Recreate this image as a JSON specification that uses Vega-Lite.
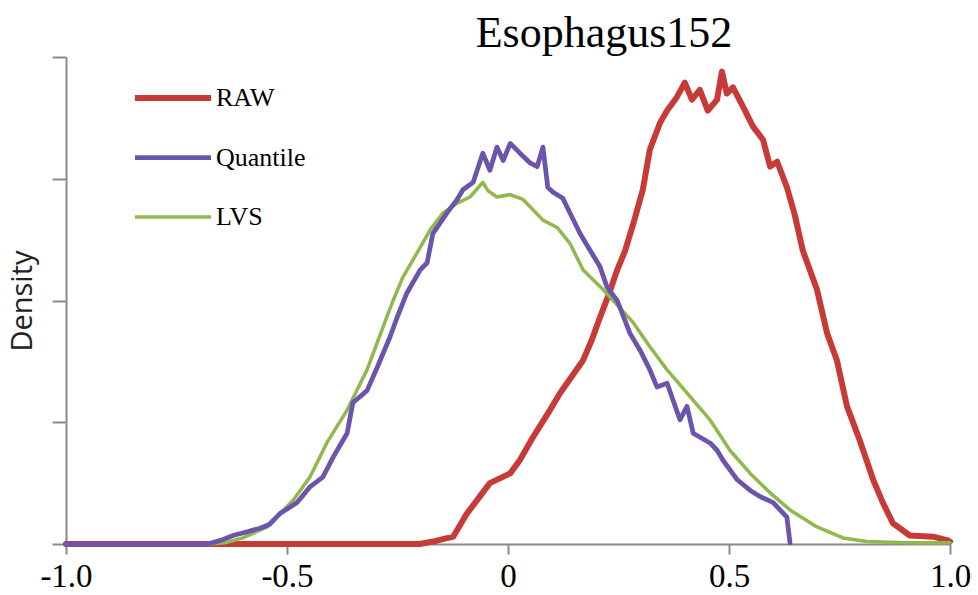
{
  "$schema": "https://vega.github.io/schema/vega-lite/v6.json",
  "autosize": {"type": "none"},
  "width": 884,
  "height": 487,
  "padding": {"left": 66, "top": 57, "right": 28, "bottom": 51},
  "background": "white",
  "title": {
    "text": "Esophagus152",
    "font": "Liberation Serif",
    "fontSize": 44,
    "fontWeight": "normal",
    "color": "black",
    "anchor": "middle",
    "dx": 96,
    "dy": 44,
    "baseline": "alphabetic",
    "offset": 9
  },
  "data": {"values": [
    {"s":"RAW","x":-1.0,"y":0},{"s":"RAW","x":-0.5,"y":0},{"s":"RAW","x":-0.2,"y":0},{"s":"RAW","x":-0.17,"y":0.02},{"s":"RAW","x":-0.124,"y":0.06},{"s":"RAW","x":-0.093,"y":0.25},{"s":"RAW","x":-0.07,"y":0.36},{"s":"RAW","x":-0.041,"y":0.5},{"s":"RAW","x":0.005,"y":0.58},{"s":"RAW","x":0.027,"y":0.69},{"s":"RAW","x":0.057,"y":0.88},{"s":"RAW","x":0.095,"y":1.10},{"s":"RAW","x":0.118,"y":1.24},{"s":"RAW","x":0.145,"y":1.38},{"s":"RAW","x":0.17,"y":1.51},{"s":"RAW","x":0.19,"y":1.68},{"s":"RAW","x":0.208,"y":1.86},{"s":"RAW","x":0.228,"y":2.05},{"s":"RAW","x":0.247,"y":2.25},{"s":"RAW","x":0.265,"y":2.41},{"s":"RAW","x":0.285,"y":2.65},{"s":"RAW","x":0.305,"y":2.91},{"s":"RAW","x":0.321,"y":3.24},{"s":"RAW","x":0.344,"y":3.46},{"s":"RAW","x":0.36,"y":3.56},{"s":"RAW","x":0.382,"y":3.67},{"s":"RAW","x":0.40,"y":3.79},{"s":"RAW","x":0.416,"y":3.65},{"s":"RAW","x":0.434,"y":3.73},{"s":"RAW","x":0.452,"y":3.56},{"s":"RAW","x":0.473,"y":3.65},{"s":"RAW","x":0.484,"y":3.88},{"s":"RAW","x":0.495,"y":3.70},{"s":"RAW","x":0.509,"y":3.75},{"s":"RAW","x":0.532,"y":3.59},{"s":"RAW","x":0.554,"y":3.43},{"s":"RAW","x":0.577,"y":3.32},{"s":"RAW","x":0.593,"y":3.10},{"s":"RAW","x":0.609,"y":3.14},{"s":"RAW","x":0.631,"y":2.93},{"s":"RAW","x":0.649,"y":2.70},{"s":"RAW","x":0.667,"y":2.41},{"s":"RAW","x":0.699,"y":2.09},{"s":"RAW","x":0.722,"y":1.73},{"s":"RAW","x":0.744,"y":1.51},{"s":"RAW","x":0.767,"y":1.13},{"s":"RAW","x":0.796,"y":0.85},{"s":"RAW","x":0.826,"y":0.53},{"s":"RAW","x":0.848,"y":0.34},{"s":"RAW","x":0.871,"y":0.17},{"s":"RAW","x":0.909,"y":0.07},{"s":"RAW","x":0.962,"y":0.06},{"s":"RAW","x":0.995,"y":0.03},{"s":"RAW","x":1.0,"y":0.02},
    {"s":"LVS","x":-1.0,"y":0},{"s":"LVS","x":-0.68,"y":0},{"s":"LVS","x":-0.64,"y":0.01},{"s":"LVS","x":-0.60,"y":0.05},{"s":"LVS","x":-0.545,"y":0.14},{"s":"LVS","x":-0.486,"y":0.36},{"s":"LVS","x":-0.448,"y":0.55},{"s":"LVS","x":-0.41,"y":0.83},{"s":"LVS","x":-0.364,"y":1.10},{"s":"LVS","x":-0.319,"y":1.43},{"s":"LVS","x":-0.283,"y":1.78},{"s":"LVS","x":-0.26,"y":2.0},{"s":"LVS","x":-0.238,"y":2.19},{"s":"LVS","x":-0.206,"y":2.39},{"s":"LVS","x":-0.176,"y":2.58},{"s":"LVS","x":-0.147,"y":2.72},{"s":"LVS","x":-0.115,"y":2.80},{"s":"LVS","x":-0.086,"y":2.85},{"s":"LVS","x":-0.057,"y":2.97},{"s":"LVS","x":-0.045,"y":2.90},{"s":"LVS","x":-0.025,"y":2.85},{"s":"LVS","x":0.005,"y":2.87},{"s":"LVS","x":0.034,"y":2.83},{"s":"LVS","x":0.05,"y":2.77},{"s":"LVS","x":0.079,"y":2.66},{"s":"LVS","x":0.111,"y":2.60},{"s":"LVS","x":0.14,"y":2.47},{"s":"LVS","x":0.17,"y":2.25},{"s":"LVS","x":0.215,"y":2.09},{"s":"LVS","x":0.283,"y":1.82},{"s":"LVS","x":0.321,"y":1.62},{"s":"LVS","x":0.36,"y":1.43},{"s":"LVS","x":0.412,"y":1.21},{"s":"LVS","x":0.457,"y":1.02},{"s":"LVS","x":0.502,"y":0.77},{"s":"LVS","x":0.548,"y":0.58},{"s":"LVS","x":0.593,"y":0.42},{"s":"LVS","x":0.638,"y":0.28},{"s":"LVS","x":0.699,"y":0.14},{"s":"LVS","x":0.758,"y":0.05},{"s":"LVS","x":0.812,"y":0.02},{"s":"LVS","x":0.9,"y":0.01},{"s":"LVS","x":1.0,"y":0.01},
    {"s":"Quantile","x":-1.0,"y":0},{"s":"Quantile","x":-0.68,"y":0},{"s":"Quantile","x":-0.65,"y":0.03},{"s":"Quantile","x":-0.622,"y":0.07},{"s":"Quantile","x":-0.59,"y":0.10},{"s":"Quantile","x":-0.561,"y":0.13},{"s":"Quantile","x":-0.54,"y":0.16},{"s":"Quantile","x":-0.516,"y":0.25},{"s":"Quantile","x":-0.477,"y":0.34},{"s":"Quantile","x":-0.448,"y":0.47},{"s":"Quantile","x":-0.419,"y":0.55},{"s":"Quantile","x":-0.396,"y":0.71},{"s":"Quantile","x":-0.364,"y":0.91},{"s":"Quantile","x":-0.351,"y":1.16},{"s":"Quantile","x":-0.319,"y":1.26},{"s":"Quantile","x":-0.296,"y":1.45},{"s":"Quantile","x":-0.267,"y":1.70},{"s":"Quantile","x":-0.251,"y":1.86},{"s":"Quantile","x":-0.229,"y":2.06},{"s":"Quantile","x":-0.199,"y":2.25},{"s":"Quantile","x":-0.183,"y":2.31},{"s":"Quantile","x":-0.17,"y":2.55},{"s":"Quantile","x":-0.138,"y":2.72},{"s":"Quantile","x":-0.115,"y":2.83},{"s":"Quantile","x":-0.102,"y":2.91},{"s":"Quantile","x":-0.079,"y":2.97},{"s":"Quantile","x":-0.057,"y":3.21},{"s":"Quantile","x":-0.041,"y":3.07},{"s":"Quantile","x":-0.025,"y":3.26},{"s":"Quantile","x":-0.011,"y":3.15},{"s":"Quantile","x":0.005,"y":3.29},{"s":"Quantile","x":0.027,"y":3.21},{"s":"Quantile","x":0.05,"y":3.13},{"s":"Quantile","x":0.066,"y":3.10},{"s":"Quantile","x":0.079,"y":3.26},{"s":"Quantile","x":0.09,"y":2.93},{"s":"Quantile","x":0.102,"y":2.89},{"s":"Quantile","x":0.124,"y":2.84},{"s":"Quantile","x":0.14,"y":2.72},{"s":"Quantile","x":0.163,"y":2.55},{"s":"Quantile","x":0.186,"y":2.41},{"s":"Quantile","x":0.208,"y":2.28},{"s":"Quantile","x":0.224,"y":2.11},{"s":"Quantile","x":0.247,"y":2.0},{"s":"Quantile","x":0.276,"y":1.73},{"s":"Quantile","x":0.299,"y":1.59},{"s":"Quantile","x":0.321,"y":1.43},{"s":"Quantile","x":0.337,"y":1.29},{"s":"Quantile","x":0.36,"y":1.32},{"s":"Quantile","x":0.389,"y":1.02},{"s":"Quantile","x":0.405,"y":1.13},{"s":"Quantile","x":0.419,"y":0.91},{"s":"Quantile","x":0.457,"y":0.83},{"s":"Quantile","x":0.473,"y":0.77},{"s":"Quantile","x":0.486,"y":0.69},{"s":"Quantile","x":0.518,"y":0.53},{"s":"Quantile","x":0.548,"y":0.44},{"s":"Quantile","x":0.57,"y":0.39},{"s":"Quantile","x":0.6,"y":0.34},{"s":"Quantile","x":0.631,"y":0.22},{"s":"Quantile","x":0.638,"y":0.01}
  ]},
  "mark": {"type": "line", "interpolate": "linear", "strokeJoin": "round", "strokeCap": "round", "clip": false},
  "encoding": {
    "x": {
      "field": "x", "type": "quantitative",
      "scale": {"domain": [-1, 1], "nice": false, "zero": false},
      "axis": {
        "values": [-1, -0.5, 0, 0.5, 1],
        "labelExpr": "datum.value == 0 ? '0' : (datum.value < 0 ? '-' + format(-datum.value, '.1f') : format(datum.value, '.1f'))",
        "title": null,
        "grid": false,
        "domainColor": "#8a8a8a", "domainWidth": 2,
        "tickColor": "#8a8a8a", "tickWidth": 2, "tickSize": 10,
        "labelFont": "Liberation Serif", "labelFontSize": 33, "labelColor": "black",
        "labelPadding": 6, "labelFlush": false, "labelOverlap": false
      }
    },
    "y": {
      "field": "y", "type": "quantitative",
      "scale": {"domain": [0, 4], "nice": false},
      "axis": {
        "values": [0, 1, 2, 3, 4],
        "labels": false,
        "grid": false,
        "title": "Density",
        "titleFont": "Open Sans", "titleFontSize": 29, "titleFontWeight": "normal", "titleColor": "#222222",
        "titlePadding": 14,
        "domainColor": "#8a8a8a", "domainWidth": 2,
        "tickColor": "#8a8a8a", "tickWidth": 2, "tickSize": 14
      }
    },
    "color": {
      "field": "s", "type": "nominal",
      "scale": {"domain": ["RAW", "Quantile", "LVS"], "range": ["#C83A38", "#6B55AC", "#8FB94B"]},
      "legend": {
        "title": null,
        "orient": "none",
        "legendX": 66,
        "legendY": 0,
        "symbolType": "stroke",
        "symbolSize": 5776,
        "labelFont": "Liberation Serif",
        "labelFontSize": 26,
        "labelColor": "black",
        "labelOffset": 2,
        "rowPadding": 6
      }
    },
    "strokeWidth": {
      "field": "s", "type": "nominal",
      "scale": {"domain": ["RAW", "Quantile", "LVS"], "range": [6, 3.5, 3]},
      "legend": {
        "title": null,
        "orient": "none",
        "legendX": 66,
        "legendY": 0,
        "symbolType": "stroke",
        "symbolSize": 5776,
        "labelFont": "Liberation Serif",
        "labelFontSize": 26,
        "labelColor": "black",
        "labelOffset": 2,
        "rowPadding": 6
      }
    },
    "order": {"field": "x", "type": "quantitative"}
  },
  "config": {"view": {"stroke": null}}
}
